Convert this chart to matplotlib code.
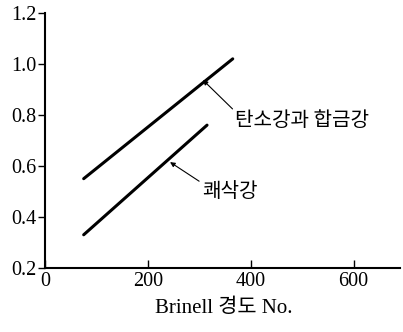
import matplotlib.pyplot as plt

# Brinell hardness vs. ratio
carbon_x = [75, 365]
carbon_y = [0.55, 1.02]
free_x = [75, 315]
free_y = [0.33, 0.76]

x_ticks = [0, 200, 400, 600]
y_ticks = [0.2, 0.4, 0.6, 0.8, 1.0, 1.2]
y_labels = ["0.2", "0.4", "0.6", "0.8", "1.0", "1.2"]

carbon_label = "탄소강과 합금강"
free_label = "쾌삭강"
x_label = "Brinell 경도 No."

SERIF = ["Liberation Serif", "Noto Sans CJK KR"]
KR = ["Noto Sans CJK KR", "DejaVu Sans"]

fig = plt.figure(figsize=(4.03, 3.32), dpi=100)
ax = fig.add_axes([0.112, 0.193, 0.88, 0.768])

ax.plot(carbon_x, carbon_y, color="black", lw=2.2, solid_capstyle="round")
ax.plot(free_x, free_y, color="black", lw=2.2, solid_capstyle="round")

ax.set_xlim(0, 690)
ax.set_ylim(0.2, 1.2)

ax.set_xticks(x_ticks)
ax.set_xticklabels([str(v) for v in x_ticks], family=SERIF, fontsize=14.5)
ax.set_yticks(y_ticks)
ax.set_yticklabels(y_labels, family=SERIF, fontsize=14.5)
ax.tick_params(axis="x", direction="in", length=6, width=1, pad=3)
ax.tick_params(axis="y", direction="out", length=5, width=1, pad=1)

for side in ["top", "right"]:
    ax.spines[side].set_visible(False)
for side in ["left", "bottom"]:
    ax.spines[side].set_linewidth(1.5)

ax.annotate(carbon_label, xy=(307, 0.937), xytext=(370, 0.78),
            family=KR, fontsize=14.5, va="center", ha="left",
            arrowprops=dict(arrowstyle="-|>", color="black", lw=0.8,
                            mutation_scale=7, shrinkA=0, shrinkB=0,
                            relpos=(0, 0.9)))
ax.annotate(free_label, xy=(243, 0.615), xytext=(305, 0.5),
            family=KR, fontsize=14.5, va="center", ha="left",
            arrowprops=dict(arrowstyle="-|>", color="black", lw=0.8,
                            mutation_scale=7, shrinkA=0, shrinkB=0,
                            relpos=(0, 0.9)))

fig.text(0.555, 0.072, x_label, family=SERIF, fontsize=15, ha="center", va="center")

fig.savefig("out.png", dpi=100)
